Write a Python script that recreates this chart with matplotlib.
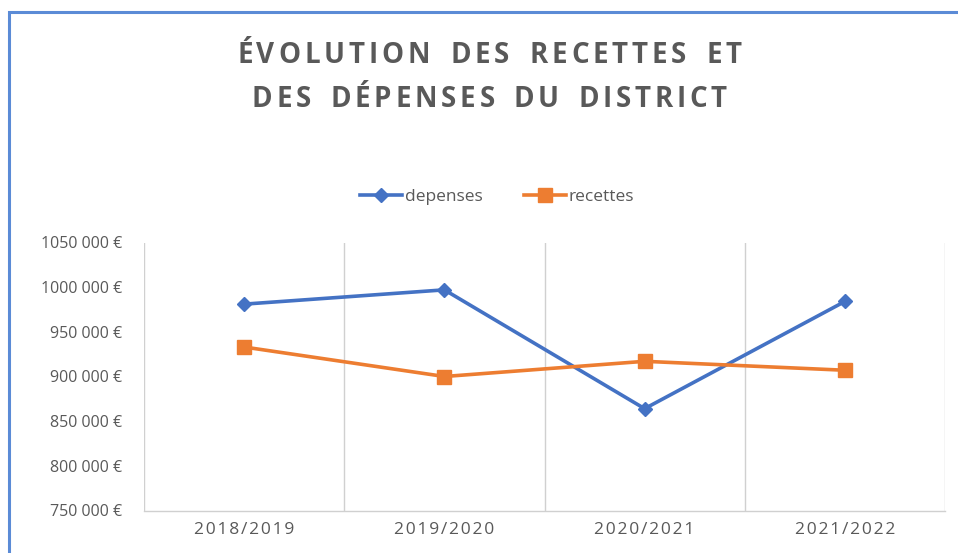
import matplotlib
matplotlib.use("Agg")
import matplotlib.pyplot as plt
from matplotlib.patches import Rectangle

categories = ["2018/2019", "2019/2020", "2020/2021", "2021/2022"]
depenses = [981000, 997000, 864000, 984000]
recettes = [933000, 900000, 917000, 907000]
y_ticks = [750000, 800000, 850000, 900000, 950000, 1000000, 1050000]
y_labels = ["750 000 €", "800 000 €", "850 000 €", "900 000 €", "950 000 €", "1000 000 €", "1050 000 €"]
title_lines = ["ÉVOLUTION DES RECETTES ET", "DES DÉPENSES DU DISTRICT"]

W, H = 958, 553
fig = plt.figure(figsize=(W / 100, H / 100), dpi=100)
fam = ['Open Sans', 'DejaVu Sans']
grey = '#595959'

# outer border (chart frame, cropped on right/bottom)
fig.patches.append(Rectangle((9 / W, -0.05), 1.2, (H - 12) / H + 0.05, transform=fig.transFigure,
                             fill=False, edgecolor='#5B8BD6', linewidth=2.2))

left, right, top, bottom = 144, 945, 242.5, 510.5
ax = fig.add_axes([left / W, (H - bottom) / H, (right - left) / W, (bottom - top) / H])

x = list(range(len(categories)))
ax.plot(x, depenses, color='#4472C4', lw=2.6, marker='D', markersize=7, label='depenses', zorder=3)
ax.plot(x, recettes, color='#ED7D31', lw=2.6, marker='s', markersize=10, label='recettes', zorder=3)

ax.set_xlim(-0.5, len(categories) - 0.5)
ax.set_ylim(750000, 1050000)
for b in [i - 0.5 for i in range(len(categories) + 1)]:
    ax.axvline(b, color='#D0D0D0', lw=1, zorder=1)
for s in ['top', 'right', 'left']:
    ax.spines[s].set_visible(False)
ax.spines['bottom'].set_color('#D0D0D0')
ax.spines['bottom'].set_linewidth(1)

ax.set_yticks(y_ticks)
ax.set_yticklabels(y_labels, family=fam, fontsize=11.5, color=grey)
ax.set_xticks(x)
ax.set_xticklabels(["\u200a".join(c) for c in categories], family=fam, fontsize=12.5, color=grey)
ax.tick_params(axis='both', length=0)
ax.tick_params(axis='y', pad=16)
ax.tick_params(axis='x', pad=8)

leg = fig.legend(loc='center', bbox_to_anchor=(497 / W, 1 - 197 / H), ncol=2, frameon=False,
                 prop={'family': fam, 'size': 12.5}, handlelength=2.4, handletextpad=0.15,
                 columnspacing=2.4)
for t in leg.get_texts():
    t.set_color(grey)

# title with letter spacing, drawn char by char
fig.canvas.draw()
renderer = fig.canvas.get_renderer()
tkw = dict(family=fam, fontsize=20, fontweight='bold', color=grey, va='baseline', ha='left')


def char_width(ch):
    t = fig.text(0, 0, ch, **tkw)
    w = t.get_window_extent(renderer).width
    t.remove()
    return w


def spaced_line(text, cx, baseline_y, total_w, letter_sp=3.8):
    words = text.split(" ")
    widths = [[char_width(c) for c in wd] for wd in words]
    letters = sum(sum(w) for w in widths)
    intra = sum(len(w) - 1 for w in widths)
    gap = (total_w - letters - letter_sp * intra) / (len(words) - 1)
    xpos = cx - total_w / 2
    for wd, ws in zip(words, widths):
        for c, w in zip(wd, ws):
            fig.text(xpos / W, 1 - baseline_y / H, c, **tkw)
            xpos += w + letter_sp
        xpos += gap - letter_sp


spaced_line(title_lines[0], 489.5, 63, 505)
spaced_line(title_lines[1], 489.5, 107, 475)

fig.savefig("out.png", dpi=100, facecolor='white')
